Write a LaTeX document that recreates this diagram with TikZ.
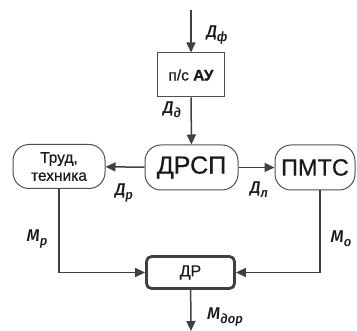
\documentclass[tikz,border=0pt]{standalone}
\usepackage{fontspec}
\setmainfont{Liberation Sans}[FakeBold=0.6]
\newfontfamily\lblfont{Fira Sans Medium Italic}
\usetikzlibrary{arrows.meta,calc}
\definecolor{ln}{HTML}{404040}
\definecolor{bx}{HTML}{505050}
\definecolor{tx}{HTML}{1A1A1A}
\newcommand{\lbl}[2]{{\lblfont\fontsize{17}{19}\selectfont #1\raisebox{-0.4ex}{\fontsize{13}{14}\selectfont #2}}}
\tikzset{
  conn/.style={draw=ln, line width=1.5pt, -{Triangle[length=10pt,width=9pt]}},
  pill/.style={draw=bx, line width=1pt, rounded corners=16pt, inner sep=0pt, align=center, text=tx},
  sqbox/.style={draw=bx, line width=1pt, inner sep=0pt, text=tx},
  drbox/.style={draw=ln, line width=2.8pt, rounded corners=5pt, inner sep=0pt, text=tx},
  lab/.style={inner sep=0pt, text=tx}
}
\begin{document}
\begin{tikzpicture}[x=1pt,y=-1pt]
\useasboundingbox (0,0) rectangle (357,331);
\node[sqbox, minimum width=67pt, minimum height=44pt, font=\fontsize{15.5}{17}\selectfont] (au) at (191,75) {п/с \textbf{АУ}};
\node[pill, minimum width=93pt, minimum height=45pt, font=\fontsize{25}{27}\selectfont] (drsp) at (191.5,167.5) {ДРСП};
\node[pill, minimum width=80pt, minimum height=45pt, font=\fontsize{23.5}{26}\selectfont] (pmts) at (315,167.5) {ПМТС};
\node[pill, minimum width=92pt, minimum height=44pt, font=\fontsize{15.5}{18}\selectfont] (trud) at (59,166.5) {Труд,\\техника};
\node[drbox, minimum width=88pt, minimum height=32pt, font=\fontsize{16}{18}\selectfont] (dr) at (190.5,272.5) {ДР};
\coordinate (top) at (191,10);
\coordinate (bot) at (191,331);
\draw[conn] (top) -- (au);
\draw[conn] (au) -- (drsp);
\draw[conn] (drsp) -- (trud);
\draw[conn] (drsp) -- (pmts);
\draw[conn] (trud.south) |- (dr.west);
\draw[conn] ([xshift=5pt]pmts.south) |- (dr.east);
\draw[conn] (dr) -- (bot);
\node[lab] (lf) at (217,35) {\lbl{Д}{ф}};
\node[lab] (ld) at (172,110) {\lbl{Д}{д}};
\node[lab] (lr) at (124,193) {\lbl{Д}{р}};
\node[lab] (ll) at (259,190) {\lbl{Д}{л}};
\node[lab] (mr) at (37,239) {\lbl{М}{р}};
\node[lab] (mo) at (341,239) {\lbl{М}{о}};
\node[lab] (mdor) at (225,317) {\lbl{М}{дор}};
\end{tikzpicture}
\end{document}
